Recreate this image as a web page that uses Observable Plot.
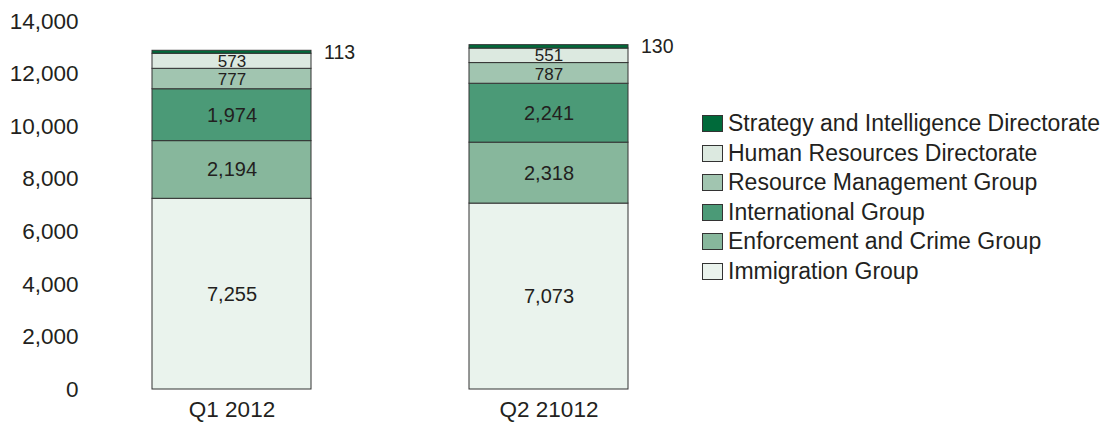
<!DOCTYPE html>
<html>
<head>
<meta charset="utf-8">
<script src="https://cdn.jsdelivr.net/npm/d3@7"></script>
<script src="https://cdn.jsdelivr.net/npm/@observablehq/plot@0.6"></script>
<style>
  html, body { margin: 0; padding: 0; background: #fff; }
  #wrap { position: relative; width: 1107px; height: 422px; font-family: "Liberation Sans", Arial, sans-serif; }
  #legend { position: absolute; left: 702px; top: 109px; font-size: 23px; color: #231f20; }
  .row { display: flex; align-items: center; height: 29.5px; white-space: nowrap; }
  .sw { width: 19px; height: 15px; border: 1px solid #333; margin-right: 5px; box-sizing: content-box; }
</style>
</head>
<body>
<div id="wrap"><div id="legend"></div></div>
<script>
const periods = ["Q1 2012", "Q2 21012"];
const groups = [
  "Immigration Group",
  "Enforcement and Crime Group",
  "International Group",
  "Resource Management Group",
  "Human Resources Directorate",
  "Strategy and Intelligence Directorate"
];
const q1Values = [7255, 2194, 1974, 777, 573, 113];
const q2Values = [7073, 2318, 2241, 787, 551, 130];
const colors = ["#eaf3ed", "#87b79c", "#4b9a77", "#a1c5b0", "#dce9e0", "#006a3a"];
const yTicks = [0, 2000, 4000, 6000, 8000, 10000, 12000, 14000];

const data = [];
groups.forEach((g, i) => {
  data.push({period: periods[0], group: g, value: q1Values[i]});
  data.push({period: periods[1], group: g, value: q2Values[i]});
});
const fmt = d3.format(",");
const topGroup = groups[groups.length - 1];
const bigGroups = groups.slice(0, 3);
const rmGroup = groups[3];
const hrGroup = groups[4];

const chart = Plot.plot({
  width: 1107,
  height: 422,
  marginTop: 21,
  marginBottom: 33,
  marginLeft: 90,
  marginRight: 418,
  style: {fontFamily: '"Liberation Sans", Arial, sans-serif', fontSize: "22px", color: "#231f20", background: "white"},
  x: {domain: periods, paddingInner: 0.5, paddingOuter: 0.192, label: null},
  y: {domain: [0, 14000], label: null},
  color: {domain: groups, range: colors},
  marks: [
    Plot.axisY({ticks: yTicks, tickSize: 0, tickPadding: 12, tickFormat: fmt, fontSize: 22.5, label: null}),
    Plot.axisX({tickSize: 0, tickPadding: 12, fontSize: 22.5, label: null}),
    Plot.barY(data, Plot.stackY({x: "period", y: "value", fill: "group", z: "group", order: groups, stroke: "#333", strokeWidth: 1})),
    Plot.text(data, Plot.stackY({x: "period", y: "value", z: "group", order: groups, text: d => bigGroups.includes(d.group) ? fmt(d.value) : null, fontSize: 20, fill: "#231f20"})),
    Plot.text(data, Plot.stackY({x: "period", y: "value", z: "group", order: groups, text: d => d.group === rmGroup ? fmt(d.value) : null, fontSize: 17, dy: 1, fill: "#231f20"})),
    Plot.text(data, Plot.stackY({x: "period", y: "value", z: "group", order: groups, text: d => d.group === hrGroup ? fmt(d.value) : null, fontSize: 17, dy: 0, fill: "#231f20"})),
    Plot.text(data, Plot.stackY2({x: "period", y: "value", z: "group", order: groups, text: d => d.group === topGroup ? fmt(d.value) : null, textAnchor: "start", dx: 92, dy: 2, fontSize: 19.5, fill: "#231f20"}))
  ]
});
document.getElementById("wrap").prepend(chart);

const legend = document.getElementById("legend");
for (let i = groups.length - 1; i >= 0; i--) {
  const row = document.createElement("div");
  row.className = "row";
  const sw = document.createElement("span");
  sw.className = "sw";
  sw.style.background = colors[i];
  const t = document.createElement("span");
  t.textContent = groups[i];
  row.appendChild(sw);
  row.appendChild(t);
  legend.appendChild(row);
}
</script>
</body>
</html>
